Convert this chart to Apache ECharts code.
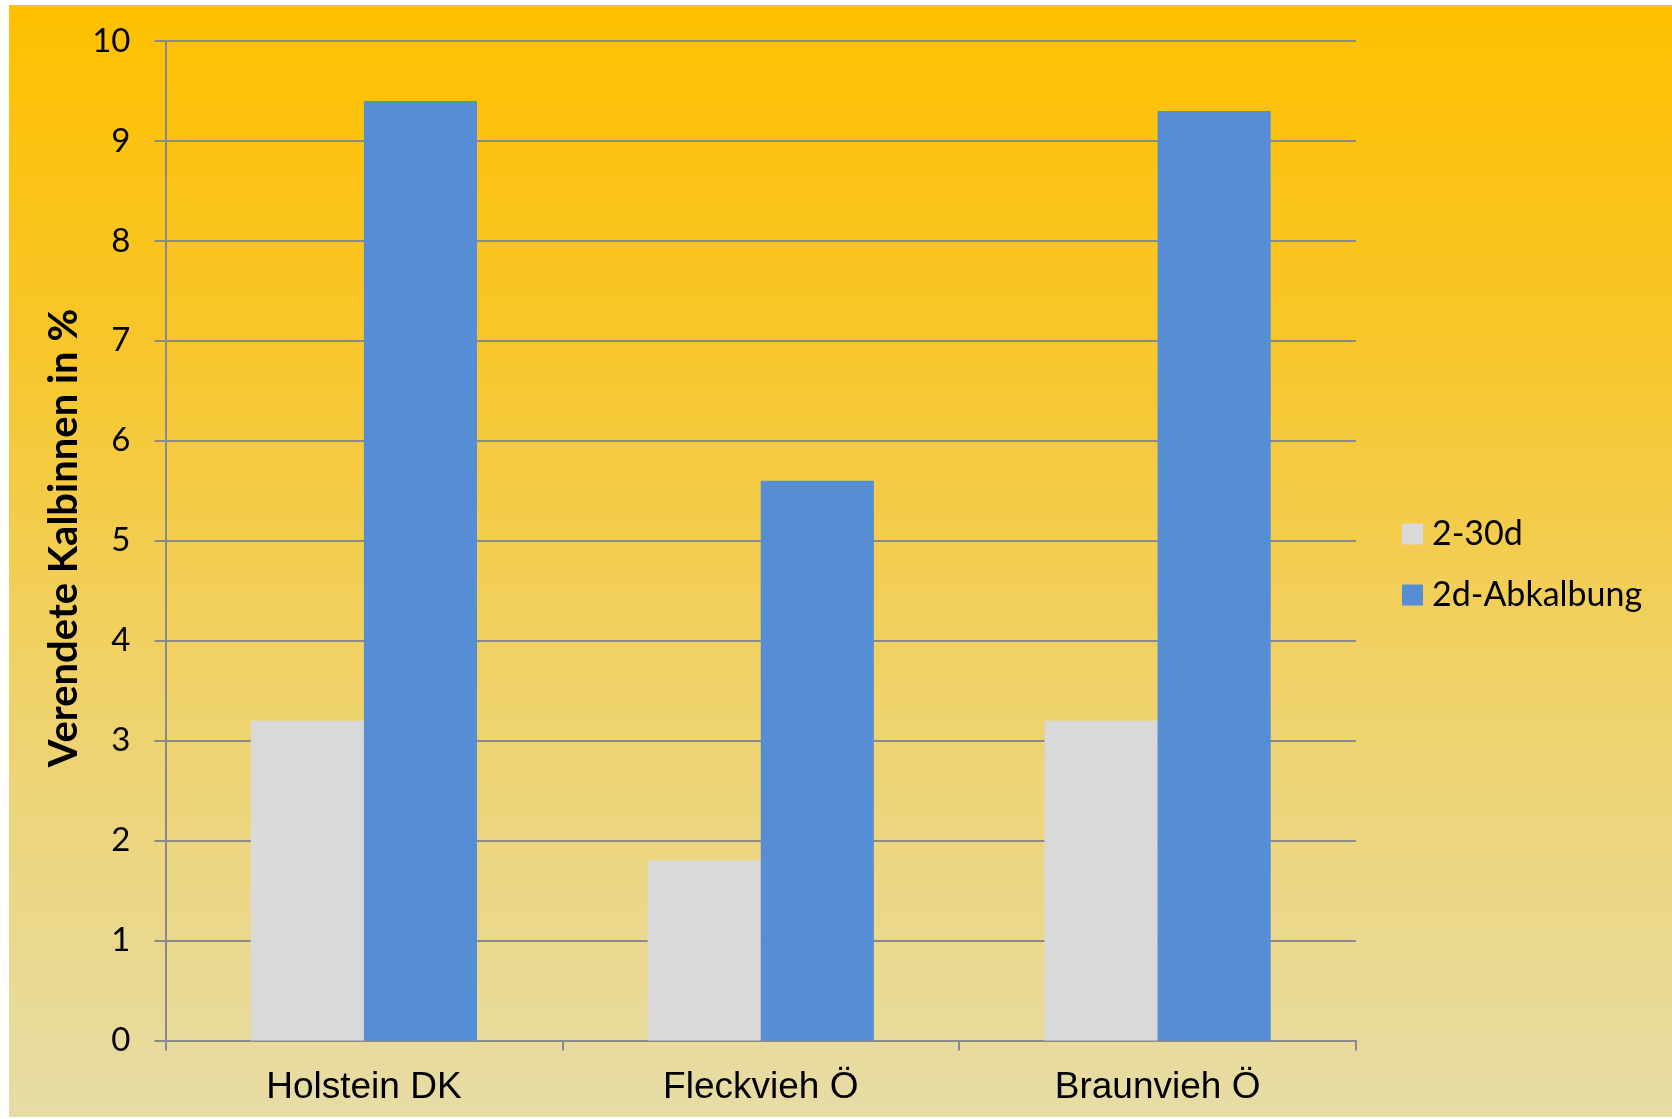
<!DOCTYPE html>
<html>
<head>
<meta charset="utf-8">
<script src="https://cdn.jsdelivr.net/npm/echarts@6/dist/echarts.min.js"></script>
<style>
html,body{margin:0;padding:0;background:#fff;}
#c{width:1672px;height:1119px;}
</style>
</head>
<body>
<div id="c"></div>
<script>
const categories = ['Holstein DK', 'Fleckvieh Ö', 'Braunvieh Ö'];
const seriesNames = ['2-30d', '2d-Abkalbung'];
const values2to30d = [3.2, 1.8, 3.2];
const valuesAbkalbung = [9.4, 5.6, 9.3];
const yTicks = [0, 1, 2, 3, 4, 5, 6, 7, 8, 9, 10];
const yTitle = 'Verendete Kalbinnen in %';

const chart = echarts.init(document.getElementById('c'), null, {renderer: 'canvas'});
const gridColor = '#8a8a8a';
chart.setOption({
  animation: false,
  backgroundColor: '#ffffff',
  graphic: [
    {
      type: 'rect', z: -10, silent: true,
      shape: {x: 9, y: 5, width: 1663, height: 1112},
      style: {
        fill: new echarts.graphic.LinearGradient(0, 0, 0, 1, [
          {offset: 0, color: '#FFC000'},
          {offset: 0.3, color: '#F8C62A'},
          {offset: 0.62, color: '#EFD26A'},
          {offset: 1, color: '#E6DCA6'}
        ])
      }
    },
    {
      type: 'text', z: 10,
      x: 64, y: 538, rotation: Math.PI / 2,
      style: {
        text: yTitle, fill: '#000',
        font: 'bold 40px Lato, "Open Sans", sans-serif',
        align: 'center', verticalAlign: 'middle'
      }
    }
  ],
  grid: {left: 165.5, right: 316, top: 41, bottom: 78.5, containLabel: false},
  legend: {
    orient: 'vertical',
    left: 1397, top: 512,
    itemWidth: 21, itemHeight: 21, itemGap: 27,
    icon: 'rect',
    data: seriesNames,
    textStyle: {fontFamily: 'Lato', fontSize: 34, lineHeight: 34, color: '#000', padding: [0, 0, 0, 4]}
  },
  xAxis: {
    type: 'category',
    data: categories,
    axisLine: {show: true, lineStyle: {color: gridColor, width: 2}},
    axisTick: {show: true, length: 10, alignWithLabel: false, lineStyle: {color: gridColor, width: 2}},
    axisLabel: {fontFamily: '"Liberation Sans", Arial, sans-serif', fontSize: 37, color: '#000', margin: 29}
  },
  yAxis: {
    type: 'value',
    min: 0, max: 10, interval: 1,
    axisLine: {show: true, lineStyle: {color: gridColor, width: 2}},
    axisTick: {show: true, length: 11, lineStyle: {color: gridColor, width: 2}},
    splitLine: {show: true, lineStyle: {color: gridColor, width: 2}},
    axisLabel: {
      fontFamily: 'Lato', fontSize: 33, color: '#000', margin: 35,
      formatter: v => yTicks.includes(v) ? String(v) : ''
    }
  },
  series: [
    {name: seriesNames[0], type: 'bar', data: values2to30d, barGap: '0%', barCategoryGap: '43%',
     itemStyle: {color: '#D9D9D9'}},
    {name: seriesNames[1], type: 'bar', data: valuesAbkalbung, barGap: '0%', barCategoryGap: '43%',
     itemStyle: {color: '#558ED5'}}
  ]
});
</script>
</body>
</html>
